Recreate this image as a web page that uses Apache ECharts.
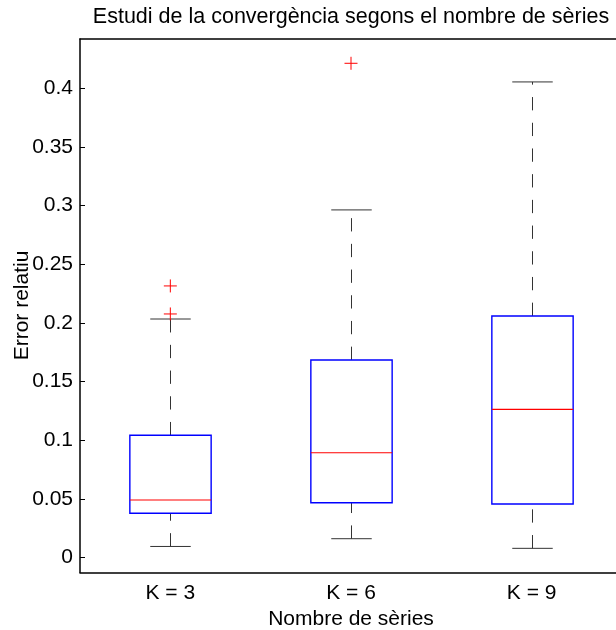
<!DOCTYPE html>
<html>
<head>
<meta charset="utf-8">
<script src="https://cdn.jsdelivr.net/npm/echarts@6/dist/echarts.min.js"></script>
<style>
  html, body { margin: 0; padding: 0; background: #fff; }
  #chart { width: 616px; height: 630px; }
</style>
</head>
<body>
<div id="chart"></div>
<script>
// Groups on the horizontal axis
const categories = ['K = 3', 'K = 6', 'K = 9'];

// Box statistics for each group
const whiskerLow  = [0.0094, 0.0160, 0.0078];
const quartile1   = [0.0377, 0.0467, 0.0456];
const medians     = [0.0490, 0.0893, 0.1263];
const quartile3   = [0.1042, 0.1684, 0.2059];
const whiskerHigh = [0.2033, 0.2963, 0.4054];

// Outliers: group index and value
const outlierGroup = [0, 0, 1];
const outlierValue = [0.2315, 0.2076, 0.4213];

// Vertical tick positions
const yTicks = [0, 0.05, 0.1, 0.15, 0.2, 0.25, 0.3, 0.35, 0.4];

const FONT = '"Liberation Sans", Arial, Helvetica, sans-serif';
const FS = 21;

const boxRows = categories.map((c, i) =>
  [i, whiskerLow[i], quartile1[i], medians[i], quartile3[i], whiskerHigh[i]]);
const outlierRows = outlierGroup.map((g, i) => [g, outlierValue[i]]);

function renderBox(params, api) {
  const i = api.value(0);
  const band = api.size([1, 0])[0];
  const half = band * 0.225;
  const cap = band * 0.112;
  const x = Math.round(api.coord([i, 0])[0]) + 0.5;
  const y = v => api.coord([i, v])[1];
  const yLo = y(api.value(1)), yQ1 = y(api.value(2)), yMed = y(api.value(3)),
        yQ3 = y(api.value(4)), yHi = y(api.value(5));
  const dash = { stroke: '#333', lineWidth: 1, lineDash: [13.3, 12.4] };
  const solid = { stroke: '#333', lineWidth: 1 };
  return {
    type: 'group',
    children: [
      { type: 'line', shape: { x1: x, y1: yQ3, x2: x, y2: yHi }, style: dash },
      { type: 'line', shape: { x1: x, y1: yLo, x2: x, y2: yQ1 }, style: dash },
      { type: 'line', shape: { x1: x - cap, y1: yHi, x2: x + cap, y2: yHi }, style: solid },
      { type: 'line', shape: { x1: x - cap, y1: yLo, x2: x + cap, y2: yLo }, style: solid },
      { type: 'rect', shape: { x: x - half, y: yQ3, width: 2 * half, height: yQ1 - yQ3 },
        style: { fill: 'none', stroke: '#0000ff', lineWidth: 1.4 } },
      { type: 'line', shape: { x1: x - half, y1: yMed, x2: x + half, y2: yMed },
        style: { stroke: '#ff0000', lineWidth: 1.2 } }
    ]
  };
}

function renderOutlier(params, api) {
  const p = api.coord([api.value(0), api.value(1)]);
  const r = 6.5;
  const st = { stroke: '#ff0000', lineWidth: 1 };
  return {
    type: 'group',
    children: [
      { type: 'line', shape: { x1: p[0] - r, y1: p[1], x2: p[0] + r, y2: p[1] }, style: st },
      { type: 'line', shape: { x1: p[0], y1: p[1] - r, x2: p[0], y2: p[1] + r }, style: st }
    ]
  };
}

const chart = echarts.init(document.getElementById('chart'), null, { renderer: 'canvas' });

chart.setOption({
  animation: false,
  backgroundColor: '#fff',
  textStyle: { fontFamily: FONT },
  grid: { left: 80, top: 39, right: -6, bottom: 57.5, containLabel: false, outerBoundsMode: 'none' },
  xAxis: [
    {
      type: 'category',
      data: categories,
      position: 'bottom',
      boundaryGap: true,
      name: 'Nombre de sèries',
      nameLocation: 'middle',
      nameGap: 33,
      nameTextStyle: { fontFamily: FONT, fontSize: FS, color: '#000' },
      axisLine: { onZero: false, lineStyle: { color: '#000', width: 1.5 } },
      axisTick: { inside: true, length: 5, alignWithLabel: true, lineStyle: { color: '#000' } },
      axisLabel: { margin: 10, fontFamily: FONT, fontSize: FS, color: '#000' },
      splitLine: { show: false }
    },
    {
      type: 'category',
      data: categories,
      position: 'top',
      boundaryGap: true,
      axisLine: { onZero: false, lineStyle: { color: '#000', width: 1.5 } },
      axisTick: { inside: true, length: 5, alignWithLabel: true, lineStyle: { color: '#000' } },
      axisLabel: { show: false },
      splitLine: { show: false }
    }
  ],
  yAxis: {
    type: 'value',
    min: -0.0128,
    max: 0.442,
    axisLine: { show: true, onZero: false, lineStyle: { color: '#000', width: 1.5 } },
    axisTick: { show: true, inside: true, length: 5, customValues: yTicks, lineStyle: { color: '#000' } },
    axisLabel: {
      margin: 7,
      customValues: yTicks,
      fontFamily: FONT,
      fontSize: FS,
      color: '#000',
      formatter: v => String(v)
    },
    splitLine: { show: false }
  },
  graphic: [
    {
      type: 'text',
      x: 351,
      y: 17,
      style: {
        text: 'Estudi de la convergència segons el nombre de sèries',
        font: '21.5px ' + FONT,
        fill: '#000',
        align: 'center',
        verticalAlign: 'middle'
      }
    },
    {
      type: 'text',
      x: 22,
      y: 305.5,
      rotation: Math.PI / 2,
      style: {
        text: 'Error relatiu',
        font: FS + 'px ' + FONT,
        fill: '#000',
        align: 'center',
        verticalAlign: 'middle'
      }
    }
  ],
  series: [
    {
      type: 'custom',
      xAxisIndex: 0,
      renderItem: renderBox,
      encode: { x: 0, y: [1, 2, 3, 4, 5] },
      data: boxRows,
      clip: false
    },
    {
      type: 'custom',
      xAxisIndex: 0,
      renderItem: renderOutlier,
      encode: { x: 0, y: 1 },
      data: outlierRows
    }
  ]
});
</script>
</body>
</html>
